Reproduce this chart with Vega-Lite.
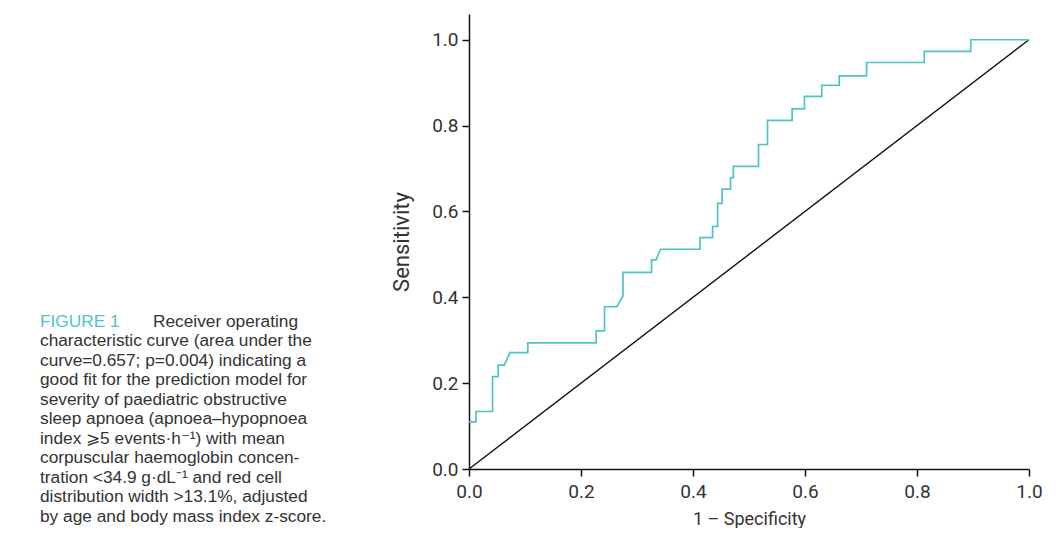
{
  "$schema": "https://vega.github.io/schema/vega-lite/v6.json",
  "background": "white",
  "padding": {"left": 5, "top": 14, "right": 5, "bottom": 0},
  "spacing": 5,
  "config": {
    "view": {"stroke": null},
    "font": "Roboto",
    "axis": {
      "grid": false,
      "domainColor": "#111111",
      "tickColor": "#111111",
      "domainWidth": 1.5,
      "tickWidth": 1.5,
      "tickSize": 7,
      "labelFont": "Roboto",
      "labelFontSize": 19,
      "labelColor": "#333333",
      "labelFlush": false,
      "titleFont": "Roboto",
      "titleFontWeight": "normal",
      "titleColor": "#333333"
    }
  },
  "datasets": {
    "caption": [
      {"line": 1, "kind": "label", "seg": "FIGURE 1"},
      {"line": 1, "kind": "lead", "seg": "Receiver operating"},
      {"line": 2, "kind": "body", "seg": "characteristic curve (area under the"},
      {"line": 3, "kind": "body", "seg": "curve=0.657; p=0.004) indicating a"},
      {"line": 4, "kind": "body", "seg": "good fit for the prediction model for"},
      {"line": 5, "kind": "body", "seg": "severity of paediatric obstructive"},
      {"line": 6, "kind": "body", "seg": "sleep apnoea (apnoea–hypopnoea"},
      {"line": 7, "kind": "body", "seg": "index ⩾5 events·h⁻¹) with mean"},
      {"line": 8, "kind": "body", "seg": "corpuscular haemoglobin concen-"},
      {"line": 9, "kind": "body", "seg": "tration <34.9 g·dL⁻¹ and red cell"},
      {"line": 10, "kind": "body", "seg": "distribution width >13.1%, adjusted"},
      {"line": 11, "kind": "body", "seg": "by age and body mass index z-score."}
    ],
    "ref": [
      {"fpr": 0, "tpr": 0},
      {"fpr": 1, "tpr": 1}
    ],
    "roc": [
      {"o": 1, "fpr": 0, "tpr": 0.11},
      {"o": 2, "fpr": 0.0125, "tpr": 0.11},
      {"o": 3, "fpr": 0.0125, "tpr": 0.134},
      {"o": 4, "fpr": 0.042, "tpr": 0.134},
      {"o": 5, "fpr": 0.042, "tpr": 0.215},
      {"o": 6, "fpr": 0.052, "tpr": 0.215},
      {"o": 7, "fpr": 0.052, "tpr": 0.242},
      {"o": 8, "fpr": 0.063, "tpr": 0.242},
      {"o": 9, "fpr": 0.073, "tpr": 0.271},
      {"o": 10, "fpr": 0.105, "tpr": 0.271},
      {"o": 11, "fpr": 0.105, "tpr": 0.294},
      {"o": 12, "fpr": 0.227, "tpr": 0.294},
      {"o": 13, "fpr": 0.227, "tpr": 0.322},
      {"o": 14, "fpr": 0.242, "tpr": 0.322},
      {"o": 15, "fpr": 0.242, "tpr": 0.378},
      {"o": 16, "fpr": 0.264, "tpr": 0.378},
      {"o": 17, "fpr": 0.275, "tpr": 0.403},
      {"o": 18, "fpr": 0.275, "tpr": 0.458},
      {"o": 19, "fpr": 0.326, "tpr": 0.458},
      {"o": 20, "fpr": 0.326, "tpr": 0.487},
      {"o": 21, "fpr": 0.334, "tpr": 0.487},
      {"o": 22, "fpr": 0.342, "tpr": 0.512},
      {"o": 23, "fpr": 0.4125, "tpr": 0.512},
      {"o": 24, "fpr": 0.4125, "tpr": 0.539},
      {"o": 25, "fpr": 0.435, "tpr": 0.539},
      {"o": 26, "fpr": 0.435, "tpr": 0.565},
      {"o": 27, "fpr": 0.444, "tpr": 0.565},
      {"o": 28, "fpr": 0.444, "tpr": 0.619},
      {"o": 29, "fpr": 0.452, "tpr": 0.619},
      {"o": 30, "fpr": 0.452, "tpr": 0.652},
      {"o": 31, "fpr": 0.467, "tpr": 0.652},
      {"o": 32, "fpr": 0.467, "tpr": 0.679},
      {"o": 33, "fpr": 0.472, "tpr": 0.679},
      {"o": 34, "fpr": 0.472, "tpr": 0.705},
      {"o": 35, "fpr": 0.517, "tpr": 0.705},
      {"o": 36, "fpr": 0.517, "tpr": 0.756},
      {"o": 37, "fpr": 0.533, "tpr": 0.756},
      {"o": 38, "fpr": 0.533, "tpr": 0.812},
      {"o": 39, "fpr": 0.577, "tpr": 0.812},
      {"o": 40, "fpr": 0.577, "tpr": 0.839},
      {"o": 41, "fpr": 0.599, "tpr": 0.839},
      {"o": 42, "fpr": 0.599, "tpr": 0.868},
      {"o": 43, "fpr": 0.63, "tpr": 0.868},
      {"o": 44, "fpr": 0.63, "tpr": 0.894},
      {"o": 45, "fpr": 0.661, "tpr": 0.894},
      {"o": 46, "fpr": 0.661, "tpr": 0.916},
      {"o": 47, "fpr": 0.71, "tpr": 0.916},
      {"o": 48, "fpr": 0.71, "tpr": 0.947},
      {"o": 49, "fpr": 0.813, "tpr": 0.947},
      {"o": 50, "fpr": 0.813, "tpr": 0.973},
      {"o": 51, "fpr": 0.896, "tpr": 0.973},
      {"o": 52, "fpr": 0.896, "tpr": 1.0},
      {"o": 53, "fpr": 1.0, "tpr": 1.0}
    ]
  },
  "hconcat": [
    {
      "width": 380,
      "height": 510,
      "data": {"name": "caption"},
      "encoding": {
        "y": {"field": "line", "type": "quantitative", "axis": null,
              "scale": {"domain": [-14.79, 11.36], "reverse": true, "nice": false, "zero": false}},
        "text": {"field": "seg", "type": "nominal"}
      },
      "layer": [
        {
          "transform": [{"filter": "datum.kind === 'body'"}],
          "mark": {"type": "text", "align": "left", "baseline": "middle", "font": "Liberation Sans", "fontSize": 17.3, "color": "#333333"},
          "encoding": {"x": {"value": 35}}
        },
        {
          "transform": [{"filter": "datum.kind === 'label'"}],
          "mark": {"type": "text", "align": "left", "baseline": "middle", "font": "Liberation Sans", "fontSize": 17.3, "color": "#4EC3C9"},
          "encoding": {"x": {"value": 35}}
        },
        {
          "transform": [{"filter": "datum.kind === 'lead'"}],
          "mark": {"type": "text", "align": "left", "baseline": "middle", "font": "Liberation Sans", "fontSize": 17.3, "color": "#333333"},
          "encoding": {"x": {"value": 148}}
        }
      ]
    },
    {
      "width": 560,
      "height": 455,
      "layer": [
        {
          "data": {"name": "ref"},
          "mark": {"type": "line", "color": "#111111", "strokeWidth": 1.4},
          "encoding": {
            "x": {"field": "fpr", "type": "quantitative"},
            "y": {"field": "tpr", "type": "quantitative"}
          }
        },
        {
          "data": {"name": "roc"},
          "mark": {"type": "line", "color": "#4EC3C9", "strokeWidth": 1.7},
          "encoding": {
            "x": {"field": "fpr", "type": "quantitative",
                  "scale": {"domain": [0, 1], "nice": false},
                  "axis": {"title": "1 – Specificity", "titleFontSize": 18, "values": [0, 0.2, 0.4, 0.6, 0.8, 1.0], "format": ".1f", "labelPadding": 6, "titlePadding": 9}},
            "y": {"field": "tpr", "type": "quantitative",
                  "scale": {"domain": [0, 1.06], "nice": false},
                  "axis": {"title": "Sensitivity", "titleFontSize": 22, "values": [0, 0.2, 0.4, 0.6, 0.8, 1.0], "format": ".1f", "labelPadding": 4, "titlePadding": 18}},
            "order": {"field": "o", "type": "quantitative"}
          }
        }
      ]
    }
  ]
}
